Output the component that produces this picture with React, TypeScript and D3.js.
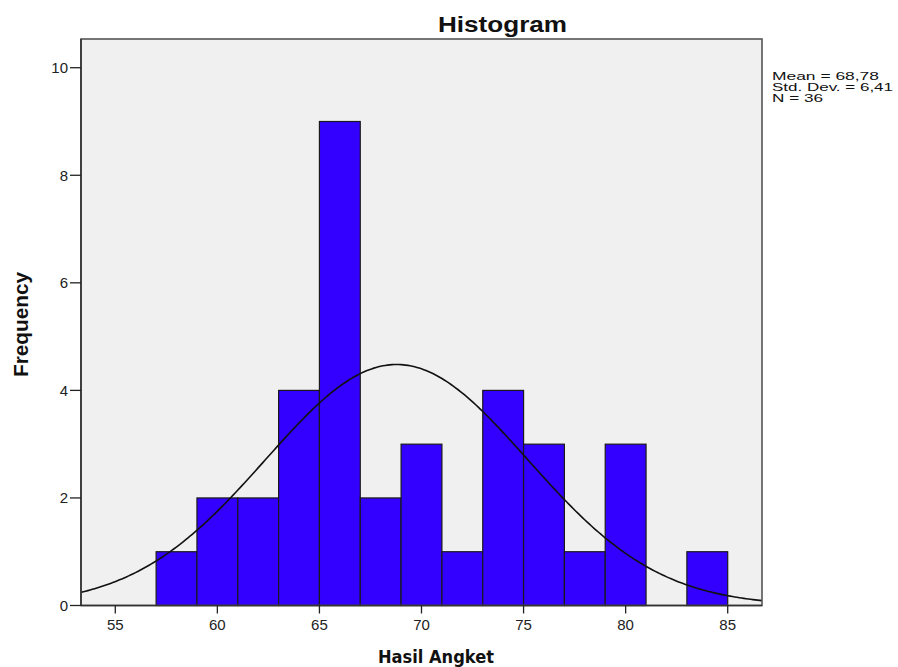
import React from "react";
import * as d3 from "d3";

// histogram bins (lower edge of each 2-point bin) and counts
const binStarts = [57, 59, 61, 63, 65, 67, 69, 71, 73, 75, 77, 79, 81, 83];
const binCounts = [1, 2, 2, 4, 9, 2, 3, 1, 4, 3, 1, 3, 0, 1];
const binWidth = 2;
const xTicks = [55, 60, 65, 70, 75, 80, 85];
const yTicks = [0, 2, 4, 6, 8, 10];
const statLines = ["Mean = 68,78", "Std. Dev. = 6,41", "N = 36"];
const statWidths = [107, 121, 51];
const mean = 68.78;
const stdDev = 6.41;
const n = 36;

const W = 898;
const H = 667;
const plot = { left: 81, right: 762, top: 39, bottom: 605.5 };

export default function App() {
  const x = d3.scaleLinear().domain([53.32, 86.68]).range([plot.left, plot.right]);
  const y = d3.scaleLinear().domain([0, 10.534]).range([plot.bottom, plot.top]);

  // fitted normal curve, scaled to counts per bin
  const peak = (n * binWidth) / (stdDev * Math.sqrt(2 * Math.PI));
  const curvePts = d3.range(0, 301).map((i) => {
    const v = 53.32 + (i / 300) * (86.68 - 53.32);
    const z = (v - mean) / stdDev;
    return [v, peak * Math.exp(-0.5 * z * z)] as [number, number];
  });
  const line = d3
    .line<[number, number]>()
    .x((d) => x(d[0]))
    .y((d) => y(d[1]));

  const font = "'Liberation Sans', Arial, sans-serif";

  return (
    <svg
      width={W}
      height={H}
      style={{ position: "absolute", left: 0, top: 0, background: "#fff" }}
    >
      <rect
        x={plot.left}
        y={plot.top}
        width={plot.right - plot.left}
        height={plot.bottom - plot.top}
        fill="#f0f0f0"
      />
      {binStarts.map((b, i) =>
        binCounts[i] > 0 ? (
          <rect
            key={b}
            x={x(b)}
            y={y(binCounts[i])}
            width={x(b + binWidth) - x(b)}
            height={y(0) - y(binCounts[i])}
            fill="#3300ff"
            stroke="#1a1a1a"
            strokeWidth={1.2}
          />
        ) : null
      )}
      <path d={line(curvePts) || ""} fill="none" stroke="#111" strokeWidth={1.6} />
      <rect
        x={plot.left}
        y={plot.top}
        width={plot.right - plot.left}
        height={plot.bottom - plot.top}
        fill="none"
        stroke="#555"
        strokeWidth={1.6}
      />
      <line x1={plot.left} x2={plot.left} y1={plot.top} y2={plot.bottom} stroke="#333" strokeWidth={1.6} />
      <line x1={plot.left} x2={plot.right} y1={plot.bottom} y2={plot.bottom} stroke="#333" strokeWidth={1.6} />

      {yTicks.map((t) => (
        <g key={t}>
          <line x1={plot.left - 11} x2={plot.left} y1={y(t)} y2={y(t)} stroke="#222" strokeWidth={1.3} />
          <text
            x={plot.left - 13}
            y={y(t) + 5.5}
            textAnchor="end"
            fontFamily={font}
            fontSize={15}
            fill="#222"
          >
            {t}
          </text>
        </g>
      ))}
      {xTicks.map((t) => (
        <g key={t}>
          <line x1={x(t)} x2={x(t)} y1={plot.bottom} y2={plot.bottom + 8} stroke="#222" strokeWidth={1.3} />
          <text
            x={x(t)}
            y={630}
            textAnchor="middle"
            fontFamily={font}
            fontSize={15}
            fill="#222"
          >
            {t}
          </text>
        </g>
      ))}

      <text
        x={438}
        y={32}
        fontFamily={font}
        fontWeight="bold"
        fontSize={22}
        textLength={129}
        lengthAdjust="spacingAndGlyphs"
        fill="#111"
      >
        Histogram
      </text>
      <text
        x={378}
        y={663}
        fontFamily="'DejaVu Sans', Verdana, sans-serif"
        fontWeight="bold"
        fontSize={18}
        textLength={116}
        lengthAdjust="spacingAndGlyphs"
        fill="#111"
      >
        Hasil Angket
      </text>
      <text
        transform="translate(28,377) rotate(-90)"
        fontFamily={font}
        fontWeight="bold"
        fontSize={20}
        textLength={105}
        lengthAdjust="spacingAndGlyphs"
        fill="#111"
      >
        Frequency
      </text>

      {statLines.map((s, i) => (
        <text
          key={s}
          x={772}
          y={79.5 + i * 11}
          fontFamily={font}
          fontSize={11}
          textLength={statWidths[i]}
          lengthAdjust="spacingAndGlyphs"
          fill="#111"
        >
          {s}
        </text>
      ))}
    </svg>
  );
}
